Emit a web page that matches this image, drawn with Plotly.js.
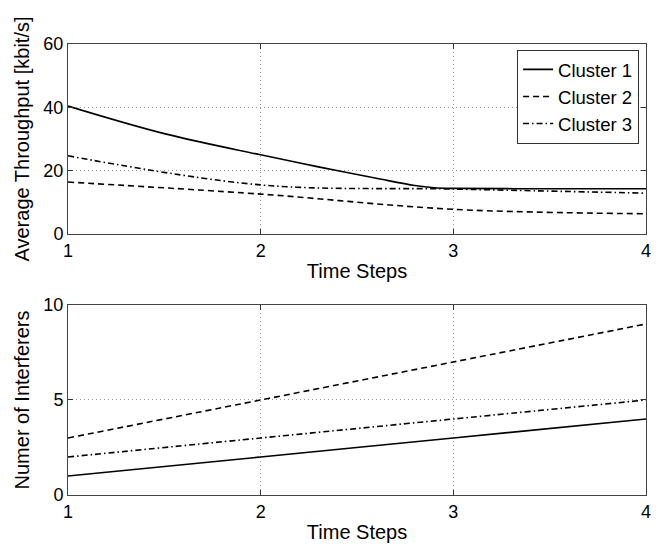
<!DOCTYPE html>
<html>
<head>
<meta charset="utf-8">
<script src="https://cdn.plot.ly/plotly-3.0.1.min.js"></script>
<style>html,body{margin:0;padding:0;background:#fff;}#chart{width:666px;height:544px;}</style>
</head>
<body>
<div id="chart"></div>
<script>
// Top panel: Average Throughput [kbit/s]
const seriesNames = ["Cluster 1", "Cluster 2", "Cluster 3"];
const thrX1 = [1, 1.5, 2, 2.3, 2.6, 2.8, 2.9, 3, 3.5, 4];
const thrY1 = [40.4, 31.7, 25.0, 21.2, 17.6, 15.3, 14.6, 14.4, 14.3, 14.3];
const thrX2 = [1, 2, 3, 4];
const thrY2 = [16.4, 12.6, 7.8, 6.4];
const thrX3 = [1, 2, 3, 4];
const thrY3 = [24.7, 15.5, 14.2, 12.9];
// Bottom panel: Number of interferers
const timeSteps = [1, 2, 3, 4];
const intf1 = [1, 2, 3, 4];
const intf2 = [3, 5, 7, 9];
const intf3 = [2, 3, 4, 5];

const xTicks = [1, 2, 3, 4];
const yTicksTop = [0, 20, 40, 60];
const yTicksBottom = [0, 5, 10];

const FONT = "Liberation Sans, Arial, Helvetica, sans-serif";
const dashes = ["solid", "6px,4px", "6px,3px,1.5px,3px"];
const lw = 1.6;

function tr(x, y, i, xa, ya, show) {
  return {
    x: x, y: y, type: "scatter", mode: "lines", name: seriesNames[i],
    xaxis: xa, yaxis: ya, showlegend: show,
    line: {color: "#000", width: lw, dash: dashes[i], shape: "spline", smoothing: 1}
  };
}

const data = [
  tr(thrX1, thrY1, 0, "x", "y", true),
  tr(thrX2, thrY2, 1, "x", "y", true),
  tr(thrX3, thrY3, 2, "x", "y", true),
  tr(timeSteps, intf1, 0, "x2", "y2", false),
  tr(timeSteps, intf2, 1, "x2", "y2", false),
  tr(timeSteps, intf3, 2, "x2", "y2", false)
];

function xax(anchor) {
  return {
    anchor: anchor, domain: [0, 1], range: [1, 4],
    tickvals: xTicks, ticktext: xTicks.map(String),
    ticks: "inside", ticklen: 5, tickcolor: "#333", mirror: "ticks",
    showline: true, linecolor: "#444", linewidth: 1,
    showgrid: true, gridcolor: "#999", gridwidth: 1, griddash: "1px,3px",
    zeroline: false,
    tickfont: {family: FONT, size: 18, color: "#000"},
    title: {text: "Time Steps", font: {family: FONT, size: 20, color: "#000"}, standoff: 4},
    automargin: false
  };
}
function yax(anchor, domain, range, tv, title) {
  return {
    anchor: anchor, domain: domain, range: range,
    tickvals: tv, ticktext: tv.map(String),
    ticks: "inside", ticklen: 5, tickcolor: "#333", mirror: "ticks",
    showline: true, linecolor: "#444", linewidth: 1,
    showgrid: true, gridcolor: "#999", gridwidth: 1, griddash: "1px,3px",
    zeroline: false,
    tickfont: {family: FONT, size: 18, color: "#000"},
    title: {text: title, font: {family: FONT, size: 20, color: "#000"}, standoff: 8},
    automargin: false
  };
}

const layout = {
  width: 666, height: 544,
  margin: {l: 68, r: 20, t: 44, b: 49},
  paper_bgcolor: "#fff", plot_bgcolor: "#fff",
  font: {family: FONT, color: "#000"},
  xaxis: xax("y"),
  yaxis: yax("x", [0.5787, 1], [0, 60], yTicksTop, "Average Throughput [kbit/s]"),
  xaxis2: xax("y2"),
  yaxis2: yax("x2", [0, 0.4213], [0, 10], yTicksBottom, "Numer of Interferers"),
  showlegend: true,
  legend: {
    x: 0.988, y: 0.987, xanchor: "right", yanchor: "top",
    bgcolor: "#fff", bordercolor: "#333", borderwidth: 1,
    font: {family: FONT, size: 18.5, color: "#000"},
    tracegroupgap: 0, itemwidth: 30
  }
};

Plotly.newPlot("chart", data, layout, {staticPlot: true, displayModeBar: false});
</script>
</body>
</html>
